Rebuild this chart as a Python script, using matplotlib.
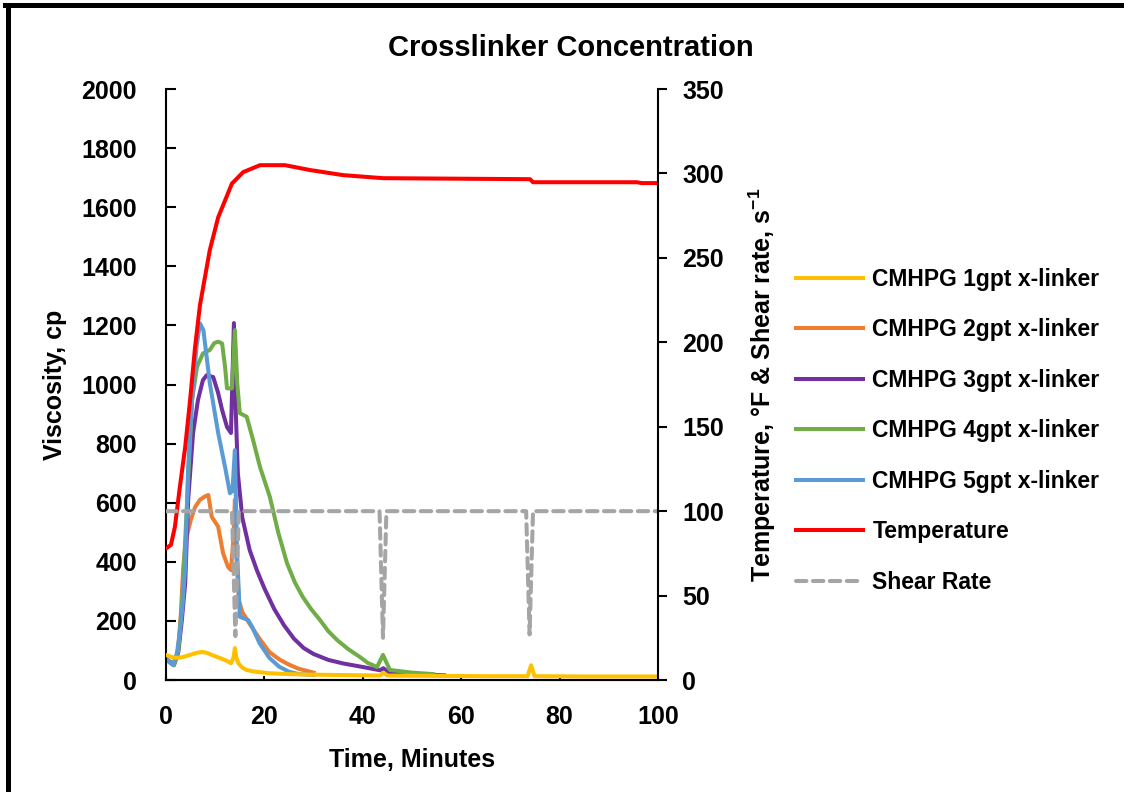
import matplotlib.pyplot as plt
from matplotlib.lines import Line2D

plt.rcParams['font.family'] = ['Liberation Sans', 'DejaVu Sans']
plt.rcParams['font.weight'] = 'bold'
plt.rcParams['mathtext.fontset'] = 'custom'
plt.rcParams['mathtext.rm'] = 'Liberation Sans'
plt.rcParams['mathtext.bf'] = 'Liberation Sans:bold'
plt.rcParams['mathtext.default'] = 'bf'

# viscosity curves (time in minutes, viscosity in cp)
t_1gpt = [0, 0.8, 1.5, 2.5, 3.5, 4.9, 6.2, 7.3, 8.3, 9.3, 11, 12.2, 13.2, 13.7, 14.0, 14.3, 14.7, 15.5, 16.4, 17.5, 18.7, 21, 25, 30, 40, 43.5, 44.2, 45, 55, 65, 73.5, 74.2, 74.9, 85, 100]
v_1gpt = [85, 80, 76, 75, 78, 85, 92, 95, 92, 85, 74, 66, 57, 75, 108, 75, 57, 42, 34, 30, 27, 23, 20, 18, 16, 15, 25, 15, 14, 13, 13, 50, 13, 12, 12]

t_2gpt = [0, 0.8, 1.6, 2.4, 3.0, 3.5, 4.0, 5.0, 5.9, 6.9, 8.0, 8.6, 9.3, 10.6, 11.6, 12.6, 13.2, 13.7, 14.0, 14.3, 14.8, 15.5, 17, 19, 21, 23, 25, 27, 30]
v_2gpt = [70, 62, 52, 90, 220, 380, 470, 540, 585, 610, 622, 626, 552, 519, 429, 383, 372, 480, 610, 420, 271, 230, 190, 140, 95, 70, 52, 38, 25]

t_3gpt = [0, 0.8, 1.6, 2.5, 3.2, 3.9, 4.5, 5.5, 6.5, 7.5, 8.3, 9.6, 10.6, 11.4, 12.4, 13.2, 13.8, 14.2, 14.6, 15.5, 17, 18.5, 20, 22, 24, 26, 28, 30, 33, 36, 40, 43.5, 44.2, 45, 48, 52, 56.5]
v_3gpt = [70, 62, 50, 95, 200, 328, 609, 836, 948, 1015, 1032, 1025, 971, 914, 856, 836, 1208, 900, 700, 550, 440, 370, 310, 240, 185, 140, 108, 88, 68, 56, 44, 33, 40, 28, 22, 18, 16]

t_4gpt = [0, 0.8, 1.6, 2.5, 3.3, 4.3, 5.3, 6.3, 7.5, 8.9, 9.8, 10.6, 11.4, 12.0, 12.4, 13.4, 14.0, 14.5, 15.0, 16.4, 17.7, 19.1, 21.1, 22.8, 24.6, 26.2, 27.8, 29.5, 31.3, 33, 34.8, 37, 39.4, 41, 42.9, 44.1, 45.5, 50, 54.3]
v_4gpt = [68, 60, 50, 100, 271, 609, 948, 1060, 1105, 1117, 1140, 1145, 1139, 1060, 987, 987, 1184, 1000, 903, 891, 812, 721, 620, 500, 395, 330, 281, 240, 203, 165, 135, 105, 78, 58, 44, 85, 34, 25, 20]

t_5gpt = [0, 0.7, 1.4, 2.2, 2.8, 3.4, 3.9, 4.5, 5.3, 6.2, 6.9, 7.6, 8.9, 10.6, 12.0, 13.0, 13.5, 14.0, 14.4, 15.0, 16.7, 17.5, 19, 21, 23, 25, 27, 30]
v_5gpt = [75, 60, 51, 90, 159, 260, 383, 721, 948, 1128, 1207, 1184, 1005, 836, 721, 632, 640, 778, 450, 214, 203, 180, 125, 75, 45, 28, 20, 17]

# temperature (F) and shear rate (1/s) on the secondary axis
t_temp = [0, 1.0, 1.8, 2.8, 3.9, 4.9, 5.9, 6.9, 8.9, 10.6, 13.4, 15.7, 19.1, 24.2, 29.3, 36, 44.1, 74, 74.6, 95.7, 96.7, 100]
temp = [78, 80, 90.6, 114, 138, 166, 197, 222, 254.6, 274, 294, 300.8, 304.9, 304.9, 302, 299, 297.2, 296.6, 294.8, 294.8, 294.3, 294.3]

t_shear = [0, 13.4, 14.1, 14.8, 43.4, 44.1, 44.8, 73.2, 73.9, 74.6, 100]
shear = [100, 100, 26, 100, 100, 25, 100, 100, 27, 100, 100]

fig = plt.figure(figsize=(11.24, 7.92), dpi=100)
ax = fig.add_axes([0.1477, 0.1414, 0.4377, 0.7462])
ax2 = ax.twinx()

lw = 2.9
ax.plot(t_1gpt, v_1gpt, color='#FFC000', lw=lw, label='CMHPG 1gpt x-linker', zorder=6)
ax.plot(t_2gpt, v_2gpt, color='#ED7D31', lw=lw, label='CMHPG 2gpt x-linker')
ax.plot(t_3gpt, v_3gpt, color='#7030A0', lw=lw, label='CMHPG 3gpt x-linker')
ax.plot(t_4gpt, v_4gpt, color='#70AD47', lw=lw, label='CMHPG 4gpt x-linker')
ax.plot(t_5gpt, v_5gpt, color='#5B9BD5', lw=lw, label='CMHPG 5gpt x-linker')
ax2.plot(t_temp, temp, color='#FF0000', lw=lw, label='Temperature')
ax2.plot(t_shear, shear, color='#A5A5A5', lw=lw, ls=(0, (2.6, 1.6)), dash_capstyle='round', label='Shear Rate')

ax.set_xlim(0, 100)
ax.set_ylim(0, 2000)
ax2.set_ylim(0, 350)
ax.set_xticks(range(0, 101, 20))
ax.set_yticks(range(0, 2001, 200))
ax2.set_yticks(range(0, 351, 50))

for a in (ax, ax2):
    a.spines['top'].set_visible(False)
    for s in a.spines.values():
        s.set_linewidth(1.5)
ax.spines['right'].set_visible(False)
ax2.spines['left'].set_visible(False)
ax.tick_params(axis='y', direction='in', length=7, width=1.5, labelsize=18, pad=21)
ax.tick_params(axis='x', direction='in', length=3, width=1.5, labelsize=18, pad=18)
ax2.tick_params(axis='y', direction='out', length=6.5, width=1.5, labelsize=18, pad=11)

ax.set_xlabel('Time, Minutes', fontsize=18, fontweight='bold', labelpad=14)
ax.set_ylabel('Viscosity, cp', fontsize=18, fontweight='bold', labelpad=10)
ax2.set_ylabel('Temperature, °F & Shear rate, s$^{-1}$', fontsize=18, fontweight='bold', labelpad=16)

fig.text(0.508, 0.94, 'Crosslinker Concentration', ha='center', va='center', fontsize=21, fontweight='bold')

h1, l1 = ax.get_legend_handles_labels()
h2, l2 = ax2.get_legend_handles_labels()
fig.legend(h1 + h2, l1 + l2, loc='center left', bbox_to_anchor=(0.690, 0.456), frameon=False,
           prop={'size': 16.5, 'weight': 'bold'}, handlelength=2.9, handletextpad=0.43, labelspacing=1.2)

# figure border (left and top edges visible)
fig.add_artist(Line2D([0.0067, 0.0067], [0, 0.993], transform=fig.transFigure, color='black', lw=3.6))
fig.add_artist(Line2D([0.0045, 1], [0.9931, 0.9931], transform=fig.transFigure, color='black', lw=3.6))

fig.savefig('out.png', dpi=100)
